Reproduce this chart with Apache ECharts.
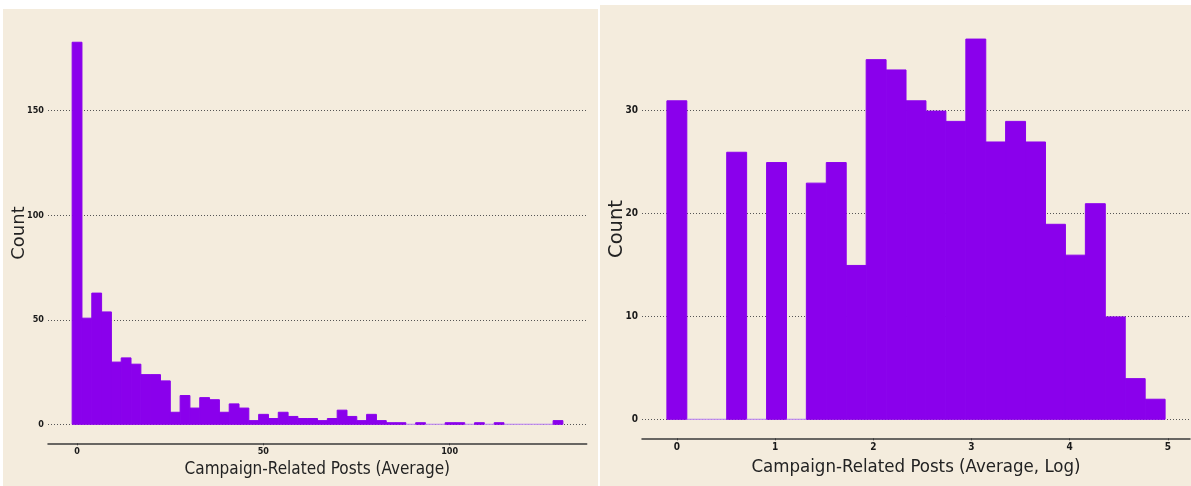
<!DOCTYPE html>
<html>
<head>
<meta charset="utf-8">
<script src="https://cdn.jsdelivr.net/npm/echarts@6/dist/echarts.min.js"></script>
<style>
  html, body { margin: 0; padding: 0; background: #ffffff; }
  #wrap { position: relative; width: 1191px; height: 486px; overflow: hidden; }
  .panel { position: absolute; background: #f4ecdd; }
  #chart { position: absolute; left: 0; top: 0; width: 1191px; height: 486px; }
</style>
</head>
<body>
<div id="wrap">
  <div class="panel" style="left:3px; top:9px; width:595px; height:477px;"></div>
  <div class="panel" style="left:600px; top:5px; width:591px; height:481px;"></div>
  <div id="chart"></div>
</div>
<script>
// ---- Left histogram: Campaign-Related Posts (Average) ----
var leftBinCenters = [0, 2.63, 5.27, 7.90, 10.54, 13.17, 15.81, 18.44, 21.08, 23.71,
  26.35, 28.98, 31.62, 34.25, 36.89, 39.52, 42.16, 44.79, 47.42, 50.06,
  52.69, 55.33, 57.96, 60.60, 63.23, 65.87, 68.50, 71.14, 73.77, 76.41,
  79.04, 81.68, 84.31, 86.95, 89.58, 92.21, 94.85, 97.48, 100.12, 102.75,
  105.39, 108.02, 110.66, 113.29, 115.93, 118.56, 121.20, 123.83, 126.47, 129.10];
var leftCounts = [183, 51, 63, 54, 30, 32, 29, 24, 24, 21,
  6, 14, 8, 13, 12, 6, 10, 8, 2, 5,
  3, 6, 4, 3, 3, 2, 3, 7, 4, 2,
  5, 2, 1, 1, 0, 1, 0, 0, 1, 1,
  0, 1, 0, 1, 0, 0, 0, 0, 0, 2];
var leftBinWidth = 2.634;
var leftXTicks = [0, 50, 100];

// ---- Right histogram: Campaign-Related Posts (Average, Log) ----
var rightBinCenters = [0, 0.203, 0.406, 0.609, 0.812, 1.015, 1.217, 1.420, 1.623, 1.826,
  2.029, 2.232, 2.435, 2.638, 2.841, 3.044, 3.246, 3.449, 3.652, 3.855,
  4.058, 4.261, 4.464, 4.667, 4.870];
var rightCounts = [31, 0, 0, 26, 0, 25, 0, 23, 25, 15,
  35, 34, 31, 30, 29, 37, 27, 29, 27, 19,
  16, 21, 10, 4, 2];
var rightBinWidth = 0.2029;
var rightXTicks = [0, 1, 2, 3, 4, 5];

var xTitleLeft = 'Campaign-Related Posts (Average)';
var xTitleRight = 'Campaign-Related Posts (Average, Log)';
var yTitle = 'Count';

var TITLE_FONT = "'DejaVu Sans Condensed', 'Liberation Sans Narrow', 'DejaVu Sans', sans-serif";
var COUNT_FONT = "'DejaVu Sans', sans-serif";
var TICK_FONT = "'DejaVu Sans Condensed', 'Liberation Sans', sans-serif";
var BAR_FILL = '#8a00ec';
var ZERO_EDGE = '#c08cf0';

function pairs(xs, ys) {
  var out = [];
  for (var i = 0; i < xs.length; i++) out.push([xs[i], ys[i]]);
  return out;
}

function barRenderer(binWidth) {
  return function (params, api) {
    var x = api.value(0), y = api.value(1);
    var p0 = api.coord([x - binWidth / 2, y]);
    var p1 = api.coord([x + binWidth / 2, 0]);
    if (y === 0) {
      return {
        type: 'line',
        shape: { x1: p0[0], y1: p1[1], x2: p1[0], y2: p1[1] },
        style: { stroke: ZERO_EDGE, lineWidth: 1.2 }
      };
    }
    return {
      type: 'rect',
      shape: { x: p0[0], y: p0[1] + 0.5, width: p1[0] - p0[0], height: p1[1] - p0[1] - 0.5 },
      style: { fill: BAR_FILL, stroke: BAR_FILL, lineWidth: 1 }
    };
  };
}

function xAxisDef(gridIndex, min, max, ticks, title, nameGap, tickSize, titleSize) {
  return {
    type: 'value', gridIndex: gridIndex, min: min, max: max,
    offset: 19,
    axisLine: { show: true, onZero: false, lineStyle: { color: '#3a3a3a', width: 1.5 } },
    axisTick: { show: true, length: 2, customValues: ticks, lineStyle: { color: '#3a3a3a' } },
    axisLabel: { customValues: ticks, fontFamily: TICK_FONT, fontWeight: 'bold', fontSize: tickSize, color: '#1a1a1a', margin: 4 },
    splitLine: { show: false },
    name: title, nameLocation: 'middle', nameGap: nameGap,
    nameTextStyle: { fontFamily: TITLE_FONT, fontSize: titleSize, color: '#222222' }
  };
}

function yAxisDef(gridIndex, max, interval, tickSize) {
  return {
    type: 'value', gridIndex: gridIndex, min: 0, max: max, interval: interval,
    axisLine: { show: false }, axisTick: { show: false },
    axisLabel: { showMaxLabel: false, fontFamily: TICK_FONT, fontWeight: 'bold', fontSize: tickSize, color: '#1a1a1a', margin: 4 },
    splitLine: { show: true, showMaxLine: false, lineStyle: { color: '#555555', width: 1, type: [1, 2] } }
  };
}

var chart = echarts.init(document.getElementById('chart'), null, { renderer: 'canvas' });
chart.setOption({
  backgroundColor: 'transparent',
  animation: false,
  grid: [
    { left: 48, right: 604.3, top: 6.2, bottom: 61.7 },
    { left: 642, right: 1, top: 7.7, bottom: 66.7 }
  ],
  xAxis: [
    xAxisDef(0, -7.8, 136.8, leftXTicks, xTitleLeft, 16, 9, 17),
    xAxisDef(1, -0.355, 5.225, rightXTicks, xTitleRight, 17, 10, 18.5)
  ],
  yAxis: [
    yAxisDef(0, 200, 50, 9),
    yAxisDef(1, 40, 10, 10)
  ],
  graphic: [
    { type: 'text', x: 19, y: 233, rotation: Math.PI / 2,
      style: { text: yTitle, font: "18px " + COUNT_FONT, fill: '#222222', align: 'center', verticalAlign: 'middle' } },
    { type: 'text', x: 617, y: 229, rotation: Math.PI / 2,
      style: { text: yTitle, font: "19.5px " + COUNT_FONT, fill: '#222222', align: 'center', verticalAlign: 'middle' } }
  ],
  series: [
    { type: 'custom', xAxisIndex: 0, yAxisIndex: 0, renderItem: barRenderer(leftBinWidth),
      data: pairs(leftBinCenters, leftCounts), encode: { x: 0, y: 1 } },
    { type: 'custom', xAxisIndex: 1, yAxisIndex: 1, renderItem: barRenderer(rightBinWidth),
      data: pairs(rightBinCenters, rightCounts), encode: { x: 0, y: 1 } }
  ]
});
</script>
</body>
</html>
